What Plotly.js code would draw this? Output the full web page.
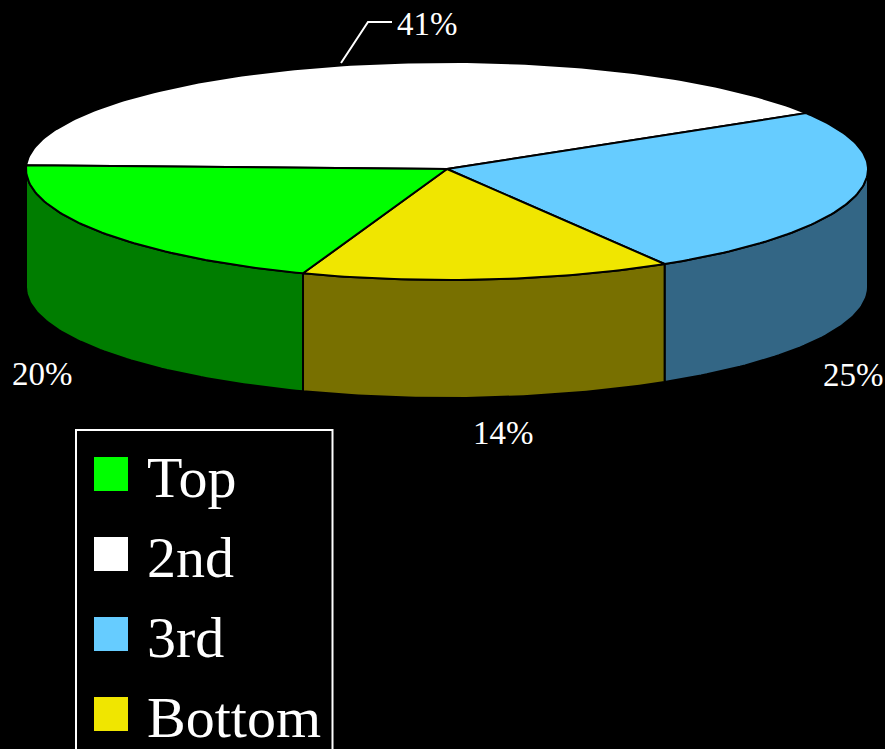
<!DOCTYPE html>
<html>
<head>
<meta charset="utf-8">
<script src="https://cdn.plot.ly/plotly-3.0.1.min.js"></script>
<style>html,body{margin:0;padding:0;background:#000;overflow:hidden}</style>
</head>
<body>
<div id="chart" style="width:885px;height:749px"></div>
<script>
// Data (drawn clockwise from the left edge of the pie)
const categories = ["2nd", "3rd", "Bottom", "Top"];
const shares = [40.7, 25.1, 14.2, 20.0];
const topColors = ["#ffffff", "#66ccff", "#f0e600", "#00ff00"];
const wallColors = ["#808080", "#336685", "#787000", "#007d00"];
const legendOrder = ["Top", "2nd", "3rd", "Bottom"];

// Label and legend placement (pixels)
const labelX = [427, 853, 503, 42];
const labelY = [24, 375, 433, 374];
const legendY = [474, 554, 634, 714];

// Pie geometry (pixels)
const cx = 447, cy = 169, rx = 421, ryBack = 107, ryFront = 111, depth = 118;
const startAngle = 178;

function pt(deg, drop) {
  const r = deg * Math.PI / 180, s = Math.sin(r);
  return [cx + rx * Math.cos(r), cy - (s >= 0 ? ryBack : ryFront) * s + (drop || 0)];
}
function arc(a1, a2, drop) {
  const n = Math.max(2, Math.ceil(Math.abs(a1 - a2))), out = [];
  for (let i = 0; i <= n; i++) out.push(pt(a1 + (a2 - a1) * i / n, drop));
  return out;
}

const walls = [], tops = [];
const total = shares.reduce((a, b) => a + b, 0);
let a = startAngle;
shares.forEach((v, i) => {
  const b = a - v / total * 360;
  // side wall: only the part of the slice on the front half of the disc
  const w1 = Math.min(a, 0), w2 = Math.max(b, -180);
  if (w1 > w2) {
    const poly = arc(w1, w2, 0).concat(arc(w2, w1, depth));
    poly.push(poly[0]);
    walls.push({
      type: "scatter", mode: "lines", fill: "toself",
      x: poly.map(p => p[0]), y: poly.map(p => p[1]),
      fillcolor: wallColors[i], line: {color: "#000000", width: 2},
      hoverinfo: "skip", showlegend: false
    });
  }
  const poly = [[cx, cy]].concat(arc(a, b, 0));
  poly.push([cx, cy]);
  tops.push({
    type: "scatter", mode: "lines", fill: "toself", name: categories[i],
    x: poly.map(p => p[0]), y: poly.map(p => p[1]),
    fillcolor: topColors[i], line: {color: "#000000", width: 2},
    hoverinfo: "skip", showlegend: false
  });
  a = b;
});

const keys = {
  type: "scatter", mode: "markers",
  x: legendOrder.map(() => 111), y: legendY,
  marker: {symbol: "square", size: 34,
    color: legendOrder.map(n => topColors[categories.indexOf(n)]), line: {width: 0}},
  hoverinfo: "skip", showlegend: false
};

const serif = "Liberation Serif, serif";
const annotations = shares.map((v, i) => ({
  x: labelX[i], y: labelY[i], xref: "x", yref: "y", text: Math.round(v) + "%",
  showarrow: false, xanchor: "center", yanchor: "middle",
  font: {family: serif, size: 33, color: "#ffffff"}
})).concat(legendOrder.map((n, i) => ({
  x: 145, y: legendY[i] + 3, xref: "x", yref: "y", text: n,
  showarrow: false, xanchor: "left", yanchor: "middle",
  font: {family: serif, size: 58, color: "#ffffff"}
})));

const shapes = [
  {type: "rect", xref: "x", yref: "y", x0: 76, x1: 332.5, y0: 430, y1: 770,
   line: {color: "#ffffff", width: 2}, fillcolor: "rgba(0,0,0,0)", layer: "below"},
  {type: "path", xref: "x", yref: "y", path: "M 341 63 L 368 22 L 392 22",
   line: {color: "#ffffff", width: 2}}
];

Plotly.newPlot("chart", walls.concat(tops, [keys]), {
  width: 885, height: 749,
  margin: {l: 0, r: 0, t: 0, b: 0},
  paper_bgcolor: "#000000", plot_bgcolor: "#000000",
  showlegend: false,
  xaxis: {visible: false, range: [0, 885], fixedrange: true},
  yaxis: {visible: false, range: [749, 0], fixedrange: true},
  annotations, shapes
}, {displayModeBar: false, staticPlot: true});
</script>
</body>
</html>
